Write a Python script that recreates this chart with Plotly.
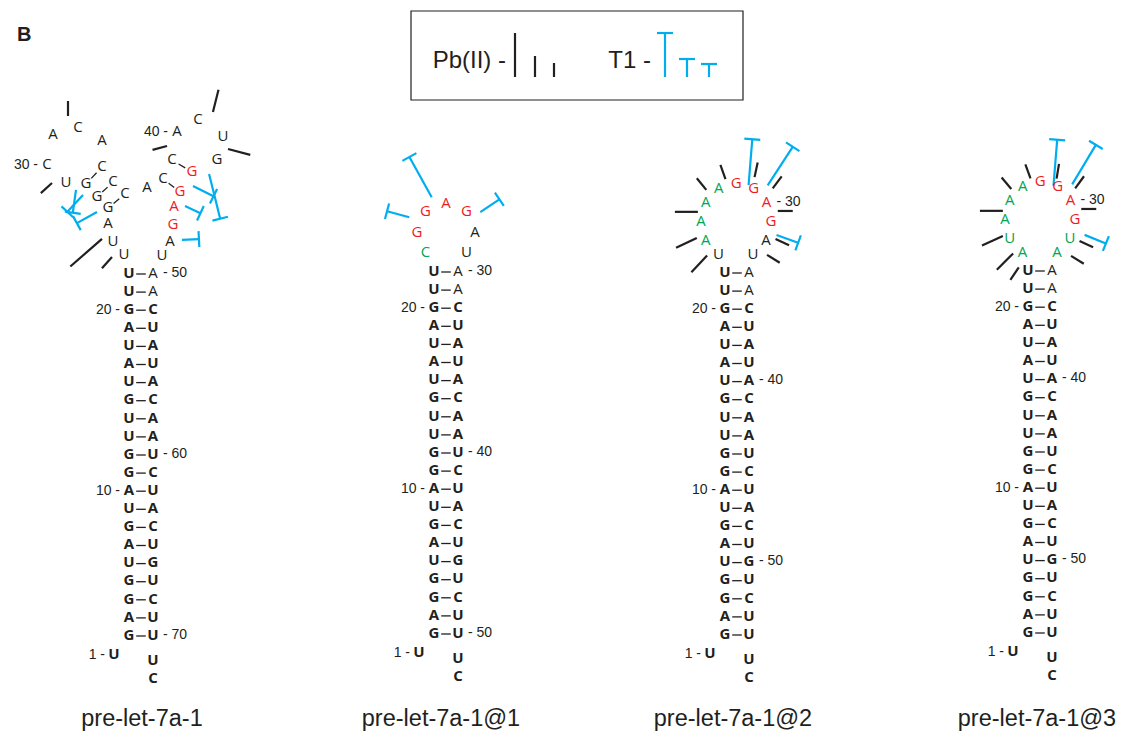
import math
import plotly.graph_objects as go

# ---------------- data ----------------
NAMES = ["pre-let-7a-1", "pre-let-7a-1@1", "pre-let-7a-1@2", "pre-let-7a-1@3"]
STEM_5P = "UGAGGUAGUAGGUUGUAUAGUU"        # nt 1-22, shared by all constructs
STEM_3P = "AACUAUACAAUCUACUGUCUUUC"       # 3' arm that follows each loop
LOOPS = ["UUAGGGUCACACCCACCACUGGGAGAU", "CGGAGAU", "UAAAAGGAGAU", "AUAAAGGAGUA"]
# loop nucleotide class: r = GGAG motif, g = substituted nucleotide, . = other
LOOP_CLASS = [".....................rrrr..", "grrrr..", ".ggggrrrr..", "gggggrrrrgg"]
NUMBERED = [1, 10, 20, 30, 40, 50, 60, 70]
# cleavage sites: nucleotide 5' of the cleaved bond, intensity
PB_SITES = [
    [(23, "weak"), (24, "strong"), (29, "weak"), (31, "weak"), (39, "weak"), (41, "medium"), (42, "medium")],
    [],
    [(23, "medium"), (24, "medium"), (25, "medium"), (26, "weak"), (27, "weak"), (28, "weak"),
     (29, "weak"), (30, "weak"), (31, "weak"), (32, "weak")],
    [(22, "weak"), (23, "medium"), (24, "medium"), (25, "medium"), (26, "weak"), (27, "weak"),
     (28, "weak"), (29, "weak"), (30, "weak"), (31, "weak"), (32, "weak")],
]
T1_SITES = [
    [(26, "medium"), (27, "medium"), (28, "medium"), (43, "strong"), (44, "medium"), (45, "weak"), (47, "weak")],
    [(24, "medium"), (25, "strong"), (27, "medium")],
    [(28, "strong"), (29, "strong"), (31, "medium")],
    [(28, "strong"), (29, "strong"), (31, "medium")],
]
LEGEND_LEVELS = ["strong", "medium", "weak"]

# ---------------- layout / style ----------------
W, H = 1128, 743
PAGE_MARGIN = 8          # default body margin of the html page
INK = "#231f20"
RED, GREEN, BLUE = "#ed1c24", "#00a651", "#00aeef"
CLASS_COLOR = {".": INK, "r": RED, "g": GREEN}
NT_FONT = "Open Sans, Noto Sans, sans-serif"
LBL_FONT = "Liberation Sans, Arial, sans-serif"
NT_SIZE = 15
NUM_SIZE = 14

ORIGIN = [(129, 274), (434, 272), (725, 273), (1028, 271)]
PAIR_DX = 24
ROW_DY = 18.1
TAIL_DY = [25, 43]
NT1_OFF = (-15, 19)
NAME_X = [142, 441, 733, 1037]
NAME_Y = 720

LOOP_XY_1 = [(-5, -19), (-16, -32), (-21, -50), (-21, -66), (-32, -77), (-43, -90), (-63, -91),
             (-82, -109), (-76, -139), (-51, -146), (-27, -133), (-27, -107), (-16, -92), (-4, -80),
             (18, -86), (34, -95), (43, -114), (48, -142), (69, -154), (94, -137), (88, -114),
             (63, -102), (51, -82), (45, -67), (44, -49), (41, -32), (33, -18)]
# centre dx, dy, radius x, radius y, start angle, step (deg)
LOOP_CIRCLE = {1: (12, -39, 29, 29, 135, 45), 2: (11, -51, 35, 38, 120, 30.1), 3: (12, -51, 35, 38, 120, 30.1)}
LOOP_PAIRS_1 = [(26, 36), (27, 35), (28, 34), (38, 45), (39, 44)]
LOOP_LABEL_SIDE = {0: {30: "left", 40: "left"}, 2: {30: "right"}, 3: {30: "right"}}

MARK_LEN = {"pb": {"strong": 42, "medium": 23, "weak": 15}, "t1": {"strong": 46, "medium": 23, "weak": 17}}
BAR_HALF = 8
# (angle deg, distance from bond, perpendicular shift)
MARK_GEOM = {
    (0, "pb", 31): (270, 15.5, 2.5), (0, "pb", 29): (138, 9.4, -3.7), (0, "pb", 24): (139, 10.3, 1.1),
    (0, "pb", 23): (132, 10.7, -0.9), (0, "pb", 39): (165, 7.2, 1.9), (0, "pb", 41): (284, 16.6, -1.6),
    (0, "pb", 42): (14.6, 7.9, -1.5),
    (0, "t1", 26): (151, 9.4, -5.6), (0, "t1", 27): (133, 9.1, 3.1), (0, "t1", 28): (98, 6.4, -0.9),
    (0, "t1", 43): (76, 8.9, -2.5), (0, "t1", 44): (26.6, 8, 0.4), (0, "t1", 45): (25, 10, 2.5),
    (0, "t1", 47): (-3, 10.1, 7),
    (1, "t1", 24): (195, 13, 2.2), (1, "t1", 25): (241, 11.6, 1.8), (1, "t1", 27): (326, 13.8, -3.4),
    (2, "pb", 23): (133, 8.9, -1.5), (2, "pb", 24): (154.5, 8.7, -3.1), (2, "pb", 25): (180, 5.5, 0.5),
    (2, "pb", 26): (230.7, 8.4, -0.8), (2, "pb", 27): (250.3, 7.7, 0.6), (2, "pb", 28): (282, 11.3, 7.3),
    (2, "pb", 29): (307, 13.9, 5.2), (2, "pb", 30): (0, 9, -2), (2, "pb", 31): (25, 9.3, 3.4),
    (2, "pb", 32): (32, 9.8, 1.5),
    (2, "t1", 28): (274.6, 1.8, 3.4), (2, "t1", 29): (303, 13.3, 0.3), (2, "t1", 31): (20, 8.5, 0),
    (3, "pb", 22): (124, 8.2, 2.3), (3, "pb", 23): (135, 7.4, -3.2), (3, "pb", 24): (155, 6.8, -4),
    (3, "pb", 25): (180, 4.5, -0.5), (3, "pb", 26): (230, 7, -0.6), (3, "pb", 27): (250, 6, 1.1),
    (3, "pb", 28): (279.5, 7.2, 6.4), (3, "pb", 29): (306, 11.3, 5.4), (3, "pb", 30): (0, 8.5, -2),
    (3, "pb", 31): (25, 11, 7), (3, "pb", 32): (32, 11.4, 4),
    (3, "t1", 28): (274.6, -0.6, 4.5), (3, "t1", 29): (301, 12.7, 1.7), (3, "t1", 31): (22, 13, 0),
}
LEG_BOX = (411, 11, 743, 100)
LEG_Y = 62
LEG_BASE = 77
LEG_PB_X = [515, 535, 554]
LEG_T1_X = [665, 687, 709]
LEG_LEN = {"pb": [44, 21, 14], "t1": [44, 18, 13]}


def seq(s):
    return STEM_5P + LOOPS[s] + STEM_3P


def pos(s, n):
    x0, y0 = ORIGIN[s]
    m = len(LOOPS[s])
    if n == 1:
        return x0 + NT1_OFF[0], y0 + 20 * ROW_DY + NT1_OFF[1]
    if n <= 22:
        return x0, y0 + (22 - n) * ROW_DY
    if n <= 22 + m:
        i = n - 23
        if s == 0:
            dx, dy = LOOP_XY_1[i]
            return x0 + dx, y0 + dy
        cx, cy, rx, ry, a0, da = LOOP_CIRCLE[s]
        a = math.radians(a0 + da * i)
        return x0 + cx + rx * math.cos(a), y0 + cy + ry * math.sin(a)
    j = n - 23 - m
    if j <= 20:
        return x0 + PAIR_DX, y0 + j * ROW_DY
    return x0 + PAIR_DX, y0 + 20 * ROW_DY + TAIL_DY[j - 21]


fig = go.Figure()

reg = dict(x=[], y=[], t=[], c=[])
bold = dict(x=[], y=[], t=[], c=[])
lab_l = dict(x=[], y=[], t=[])
lab_r = dict(x=[], y=[], t=[])
thin = dict(x=[], y=[])
pbl = dict(x=[], y=[])
t1l = dict(x=[], y=[])


def seg(store, p, q):
    store["x"] += [p[0], q[0], None]
    store["y"] += [p[1], q[1], None]


for s in range(4):
    sq = seq(s)
    m = len(LOOPS[s])
    N = len(sq)
    for n in range(1, N + 1):
        x, y = pos(s, n)
        ch = sq[n - 1]
        if 23 <= n <= 22 + m:
            store, col = reg, CLASS_COLOR[LOOP_CLASS[s][n - 23]]
        else:
            j = n - 23 - m
            store = reg if j in (0, 1) else bold
            col = INK
        store["x"].append(x); store["y"].append(y); store["t"].append(ch); store["c"].append(col)
    # base-pair connectors
    pairs = [(22 - r, 23 + m + r) for r in range(21)]
    if s == 0:
        pairs += LOOP_PAIRS_1
    for a, b in pairs:
        (xa, ya), (xb, yb) = pos(s, a), pos(s, b)
        f0, f1 = (0.3, 0.7) if a < 23 else (0.33, 0.66)
        seg(thin, (xa + f0 * (xb - xa), ya + f0 * (yb - ya)), (xa + f1 * (xb - xa), ya + f1 * (yb - ya)))
    # numbering
    for n in NUMBERED:
        if n > N:
            continue
        x, y = pos(s, n)
        if n <= 22:
            side = "left"
        elif n <= 22 + m:
            side = LOOP_LABEL_SIDE[s][n]
        else:
            side = "right"
        if side == "left":
            lab_l["x"].append(x - 9); lab_l["y"].append(y); lab_l["t"].append(f"{n} -")
        else:
            lab_r["x"].append(x + 10); lab_r["y"].append(y - 1); lab_r["t"].append(f"- {n}")
    # probing marks
    for agent, sites, store in (("pb", PB_SITES[s], pbl), ("t1", T1_SITES[s], t1l)):
        for nt, strength in sites:
            ang, d0, p = MARK_GEOM[(s, agent, nt)]
            (xa, ya), (xb, yb) = pos(s, nt), pos(s, nt + 1)
            mx, my = (xa + xb) / 2, (ya + yb) / 2
            a = math.radians(ang)
            ux, uy = math.cos(a), math.sin(a)
            nx, ny = -uy, ux
            L = MARK_LEN[agent][strength]
            sx, sy = mx + d0 * ux + p * nx, my + d0 * uy + p * ny
            ex, ey = sx + L * ux, sy + L * uy
            seg(store, (sx, sy), (ex, ey))
            if agent == "t1":
                seg(store, (ex - BAR_HALF * nx, ey - BAR_HALF * ny), (ex + BAR_HALF * nx, ey + BAR_HALF * ny))

# legend marks
for i, lvl in enumerate(LEGEND_LEVELS):
    L = LEG_LEN["pb"][i]
    seg(pbl, (LEG_PB_X[i], LEG_BASE), (LEG_PB_X[i], LEG_BASE - L))
    L = LEG_LEN["t1"][i]
    xt = LEG_T1_X[i]
    seg(t1l, (xt, LEG_BASE), (xt, LEG_BASE - L))
    seg(t1l, (xt - BAR_HALF, LEG_BASE - L), (xt + BAR_HALF, LEG_BASE - L))

NOHOVER = dict(hoverinfo="skip", showlegend=False)
fig.add_trace(go.Scatter(x=thin["x"], y=thin["y"], mode="lines", line=dict(color=INK, width=1.3), **NOHOVER))
fig.add_trace(go.Scatter(x=pbl["x"], y=pbl["y"], mode="lines", line=dict(color=INK, width=2.2), **NOHOVER))
fig.add_trace(go.Scatter(x=t1l["x"], y=t1l["y"], mode="lines", line=dict(color=BLUE, width=2.2), **NOHOVER))
fig.add_trace(go.Scatter(x=reg["x"], y=reg["y"], text=reg["t"], mode="text", textposition="middle center",
                         textfont=dict(family=NT_FONT, size=NT_SIZE, color=reg["c"]), **NOHOVER))
fig.add_trace(go.Scatter(x=bold["x"], y=bold["y"], text=bold["t"], mode="text", textposition="middle center",
                         textfont=dict(family=NT_FONT, size=NT_SIZE, color=bold["c"], weight="bold"), **NOHOVER))
fig.add_trace(go.Scatter(x=lab_l["x"], y=lab_l["y"], text=lab_l["t"], mode="text", textposition="middle left",
                         textfont=dict(family=LBL_FONT, size=NUM_SIZE, color=INK), **NOHOVER))
fig.add_trace(go.Scatter(x=lab_r["x"], y=lab_r["y"], text=lab_r["t"], mode="text", textposition="middle right",
                         textfont=dict(family=LBL_FONT, size=NUM_SIZE, color=INK), **NOHOVER))
fig.add_trace(go.Scatter(x=NAME_X, y=[NAME_Y] * 4, text=NAMES, mode="text", textposition="middle center",
                         textfont=dict(family=LBL_FONT, size=23.5, color=INK), **NOHOVER))
fig.add_trace(go.Scatter(x=[506, 651], y=[LEG_Y, LEG_Y], text=["Pb(II) -", "T1 -"], mode="text",
                         textposition="middle left", textfont=dict(family=LBL_FONT, size=24, color=INK), **NOHOVER))
fig.add_trace(go.Scatter(x=[17], y=[36], text=["B"], mode="text", textposition="middle right",
                         textfont=dict(family=LBL_FONT, size=20, color=INK, weight="bold"), **NOHOVER))

fig.add_shape(type="rect", x0=LEG_BOX[0], y0=LEG_BOX[1], x1=LEG_BOX[2], y1=LEG_BOX[3],
              line=dict(color=INK, width=1.2), layer="below")

# the page has an 8px body margin: shrink the figure and shift the axis ranges
# so that axis units still equal page pixels of the 1128x743 window
fig.update_layout(
    width=W - 2 * PAGE_MARGIN, height=H - 2 * PAGE_MARGIN, margin=dict(l=0, r=0, t=0, b=0),
    paper_bgcolor="white", plot_bgcolor="white", showlegend=False,
    xaxis=dict(range=[PAGE_MARGIN, W - PAGE_MARGIN], visible=False, fixedrange=True),
    yaxis=dict(range=[H - PAGE_MARGIN, PAGE_MARGIN], visible=False, fixedrange=True),
)
fig.write_html("out.html", config={"displayModeBar": False})
